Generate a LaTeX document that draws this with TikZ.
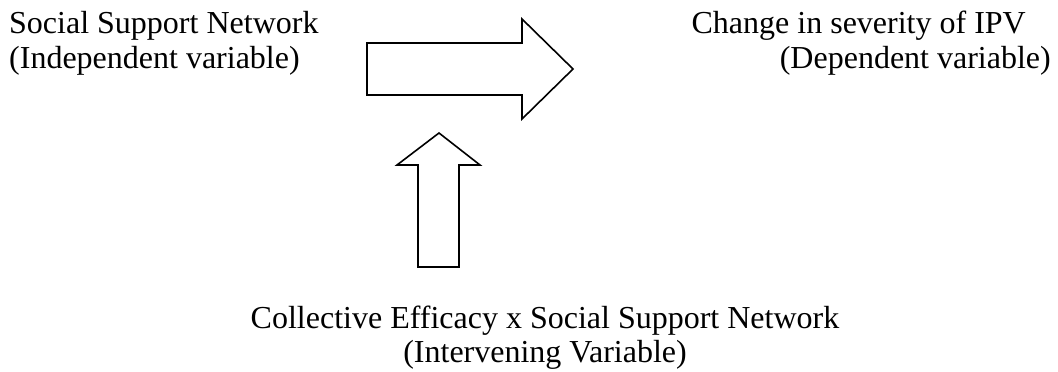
\documentclass[tikz,border=0pt]{standalone}
\usepackage{fontspec}
\setmainfont{Liberation Serif}
\begin{document}
\begin{tikzpicture}[x=1pt,y=-1pt,
  lbl/.style={inner sep=0pt,font=\fontsize{32}{34}\selectfont},
  bigarrow/.style={draw=black,line width=1.6pt,line join=miter,fill=white}]
\useasboundingbox (0,0) rectangle (1058,372);
\node[lbl,anchor=base west] (iv1) at (9,34) {Social Support Network};
\node[lbl,anchor=base west] (iv2) at (9,68) {(Independent variable)};
\node[lbl,anchor=base east] (dv1) at (1026,34) {Change in severity of IPV};
\node[lbl,anchor=base east] (dv2) at (1051,68) {(Dependent variable)};
\node[lbl,anchor=base,align=center] (mv1) at (545,328) {Collective Efficacy x Social Support Network};
\node[lbl,anchor=base,align=center] (mv2) at (545,362) {(Intervening Variable)};
\draw[bigarrow] (367,43) -- (522,43) -- (522,19) -- (573,69) -- (522,119) -- (522,95) -- (367,95) -- cycle;
\draw[bigarrow] (418,267) -- (418,165) -- (397,165) -- (439,133) -- (480,165) -- (459,165) -- (459,267) -- cycle;
\end{tikzpicture}
\end{document}
